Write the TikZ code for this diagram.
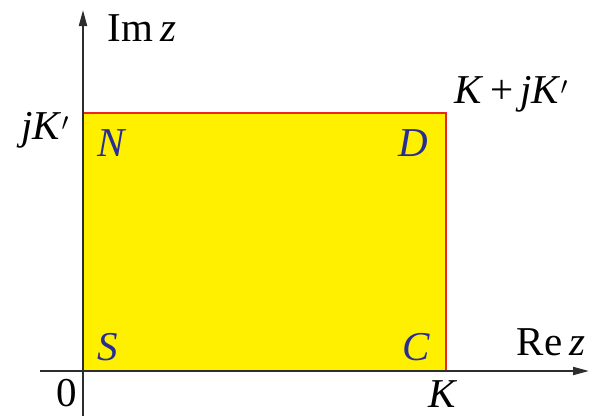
\documentclass[tikz,border=0pt]{standalone}
\usepackage{fontspec}
\setmainfont{Liberation Serif}
\usetikzlibrary{arrows.meta}
\definecolor{fillyel}{RGB}{255,240,0}
\definecolor{edgered}{RGB}{232,40,40}
\definecolor{lblblue}{RGB}{40,45,150}
\definecolor{axisgray}{RGB}{45,45,45}
\tikzset{
  axis/.style={draw=axisgray, line width=2pt, -{Triangle[length=16pt,width=8pt]}},
  lbl/.style={inner sep=0pt, font=\fontsize{41}{43}\selectfont, text=black},
  corner/.style={inner sep=0pt, font=\fontsize{41}{43}\selectfont\itshape, text=lblblue},
}
\begin{document}
\begin{tikzpicture}[x=1pt,y=-1pt]
\useasboundingbox (0,0) rectangle (592,416);
\coordinate (S) at (83,371);
\coordinate (C) at (446,371);
\coordinate (D) at (446,113);
\coordinate (N) at (83,113);
\coordinate (xs) at (40,371);
\coordinate (xe) at (589,371);
\coordinate (ys) at (83,416);
\coordinate (ye) at (83,10);
\fill[fillyel] (S) -- (C) -- (D) -- (N) -- cycle;
\draw[edgered, line width=1.6pt] (S) -- (C) -- (D) -- (N) -- cycle;
\draw[axis] (xs) -- (xe);
\draw[axis] (ys) -- (ye);
\node[lbl] (im) at (142,28) {Im\,\textit{z}};
\node[lbl] (re) at (551,342) {Re\,\textit{z}};
\node[lbl] (jk) at (45,130) {\textit{jK}$'$};
\node[lbl] (kjk) at (511,94) {\textit{K}\,+\,\textit{jK}$'$};
\node[lbl] (zero) at (67,393) {0};
\node[lbl] (k) at (443,394) {\textit{K}};
\node[corner] (n) at (111,143) {N};
\node[corner] (d) at (413,143) {D};
\node[corner] (s) at (108,347) {S};
\node[corner] (c) at (416,347) {C};
\end{tikzpicture}
\end{document}
